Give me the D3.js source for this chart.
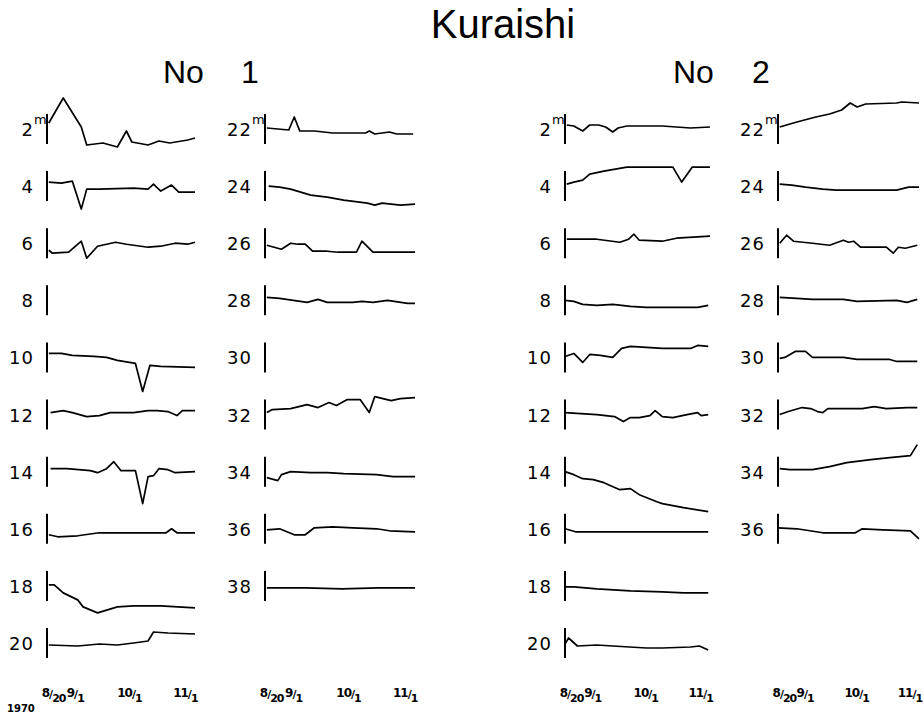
<!DOCTYPE html>
<html lang="en">
<head>
<meta charset="utf-8">
<title>Kuraishi</title>
<script src="https://cdn.jsdelivr.net/npm/d3@7"></script>
<style>
  body { margin: 0; background: #fff; }
  svg { display: block; }
</style>
</head>
<body>
<script>

// Days counted from Aug 1 1970 (day 32 = 9/1, day 62 = 10/1, day 93 = 11/1)
// Each point: [day, departure]; the little bar at the left of each trace is +/-14 units

// ---- Station No 1 ----
var no1_02 = [[19,6],[27,31],[37,2],[40,-16],[49,-14],[57,-18],[62,-2],[65,-13],[74,-16],[80,-12],[86,-14],[96,-11],[100,-9]];
var no1_04 = [[19,4],[26,3],[32,5],[37,-23],[40,-3],[47,-3],[66,-2],[74,-3],[77,2],[81,-5],[87,1],[91,-6],[100,-6]];
var no1_06 = [[19,-7],[21,-10],[30,-9],[37,2],[40,-15],[46,-3],[56,1],[62,-1],[74,-4],[81,-3],[89,0],[96,-1],[100,1]];
var no1_08 = [];
var no1_10 = [[19,4],[26,4],[32,2],[44,1],[51,0],[57,-3],[67,-6],[71,-34],[75,-8],[81,-9],[100,-10]];
var no1_12 = [[20,2],[27,4],[32,2],[40,-2],[47,-1],[53,2],[66,2],[74,4],[79,4],[85,3],[90,-1],[93,4],[100,4]];
var no1_14 = [[20,3],[29,3],[42,1],[46,-1],[51,3],[55,10],[59,1],[67,1],[71,-32],[74,-5],[77,-4],[80,3],[85,2],[89,-1],[100,0]];
var no1_16 = [[19,-6],[24,-8],[35,-7],[47,-4],[66,-4],[84,-4],[87,0],[90,-4],[100,-4]];
var no1_18 = [[19,1],[22,1],[27,-7],[35,-14],[38,-21],[46,-27],[57,-21],[66,-20],[81,-20],[100,-22]];
var no1_20 = [[19,-2],[35,-3],[47,-1],[57,-2],[66,0],[74,2],[77,11],[85,10],[100,9]];
var no1_22 = [[19,1],[31,-1],[34,12],[37,-2],[45,-2],[55,-4],[73,-4],[75,-2],[78,-5],[86,-3],[90,-5],[99,-5]];
var no1_24 = [[20,0],[26,-1],[32,-3],[43,-9],[52,-11],[61,-14],[74,-17],[78,-19],[82,-17],[92,-19],[100,-18]];
var no1_26 = [[19,-2],[27,-6],[32,0],[36,-1],[40,-1],[44,-8],[52,-8],[58,-9],[68,-9],[71,2],[77,-9],[87,-9],[100,-9]];
var no1_28 = [[19,3],[26,2],[41,-2],[47,1],[52,-2],[66,-2],[71,-1],[77,-2],[85,0],[96,-3],[100,-3]];
var no1_30 = [];
var no1_32 = [[19,2],[22,5],[32,6],[41,10],[47,7],[53,12],[57,9],[63,15],[70,15],[75,2],[78,18],[87,14],[92,16],[100,17]];
var no1_34 = [[19,-6],[25,-9],[27,-3],[32,0],[43,-1],[52,-1],[61,-2],[79,-3],[88,-5],[100,-5]];
var no1_36 = [[19,-1],[26,0],[30,-3],[34,-6],[40,-6],[45,1],[55,2],[66,1],[79,0],[86,-2],[100,-3]];
var no1_38 = [[19,-2],[40,-2],[60,-3],[80,-2],[100,-2]];

// ---- Station No 2 ----
var no2_02 = [[19,4],[23,3],[28,-2],[32,4],[37,4],[41,2],[45,-3],[48,1],[53,3],[73,3],[89,1],[100,2]];
var no2_04 = [[19,2],[23,4],[28,6],[32,12],[40,15],[53,19],[64,19],[79,19],[84,4],[90,19],[100,19]];
var no2_06 = [[19,4],[36,4],[49,1],[54,4],[57,9],[60,3],[73,2],[81,5],[100,7]];
var no2_08 = [[18,0],[23,-1],[28,-4],[36,-5],[45,-4],[55,-6],[64,-7],[73,-7],[93,-7],[99,-5]];
var no2_10 = [[18,1],[23,4],[28,-5],[32,3],[38,2],[45,0],[50,9],[55,11],[73,9],[89,9],[93,12],[99,11]];
var no2_12 = [[18,2],[36,0],[46,-2],[51,-7],[55,-3],[60,-3],[66,-1],[69,4],[73,-2],[79,-3],[87,0],[93,2],[95,-1],[99,0]];
var no2_14 = [[18,0],[23,-3],[28,-7],[34,-8],[40,-11],[49,-18],[55,-17],[60,-23],[70,-30],[73,-32],[85,-36],[99,-40]];
var no2_16 = [[18,0],[24,-3],[36,-3],[99,-3]];
var no2_18 = [[18,-1],[23,-1],[36,-3],[55,-5],[73,-6],[85,-7],[99,-7]];
var no2_20 = [[18,-1],[20,5],[25,-3],[36,-2],[45,-3],[64,-5],[73,-5],[89,-4],[94,-3],[99,-7]];
var no2_22 = [[19,2],[29,7],[40,12],[48,15],[55,19],[60,26],[64,22],[69,25],[87,26],[90,27],[100,26]];
var no2_24 = [[19,2],[26,1],[34,-1],[44,-3],[52,-4],[67,-4],[87,-4],[94,-1],[100,-1]];
var no2_26 = [[19,0],[23,8],[27,2],[38,0],[48,-2],[56,3],[59,1],[62,2],[66,-4],[75,-4],[81,-4],[85,-10],[88,-4],[92,-5],[99,-2]];
var no2_28 = [[19,3],[29,2],[38,1],[56,1],[64,-1],[87,0],[93,-2],[99,1]];
var no2_30 = [[19,-1],[22,0],[28,6],[34,6],[38,0],[56,0],[64,-2],[83,-2],[87,-4],[99,-4]];
var no2_32 = [[19,0],[24,3],[32,7],[37,6],[41,3],[44,2],[47,6],[67,6],[74,8],[81,6],[93,7],[99,7]];
var no2_34 = [[19,3],[25,2],[38,2],[48,5],[58,9],[72,12],[83,14],[95,16],[99,27]];
var no2_36 = [[18,1],[29,0],[44,-4],[63,-4],[67,0],[79,-1],[95,-2],[100,-10]];

var depthsLeft = [2, 4, 6, 8, 10, 12, 14, 16, 18, 20];
var depthsRight1 = [22, 24, 26, 28, 30, 32, 34, 36, 38];
var depthsRight2 = [22, 24, 26, 28, 30, 32, 34, 36];

var tickDays = [20, 32, 62, 93];
var tickNum = ["8", "9", "10", "11"];
var tickDen = ["20", "1", "1", "1"];

// ---- layout ----
var w = 924;
var h = 713;

var columns = [
	{ x0: 47,  width: 148, depths: depthsLeft,   series: [no1_02, no1_04, no1_06, no1_08, no1_10, no1_12, no1_14, no1_16, no1_18, no1_20] },
	{ x0: 265, width: 150, depths: depthsRight1, series: [no1_22, no1_24, no1_26, no1_28, no1_30, no1_32, no1_34, no1_36, no1_38] },
	{ x0: 565, width: 145, depths: depthsLeft,   series: [no2_02, no2_04, no2_06, no2_08, no2_10, no2_12, no2_14, no2_16, no2_18, no2_20] },
	{ x0: 778, width: 141, depths: depthsRight2, series: [no2_22, no2_24, no2_26, no2_28, no2_30, no2_32, no2_34, no2_36] }
];

var toDate = function(d) { return new Date(1970, 7, d); };

var rowY = d3.scaleLinear().domain([0, 9]).range([129, 643]);
var yOff = d3.scaleLinear().domain([-14, 14]).range([14, -14]);

var svg = d3.select("body")
			.append("svg")
			.attr("width", w)
			.attr("height", h);

svg.append("rect").attr("width", w).attr("height", h).attr("fill", "#fff");

//Titles
svg.append("text")
	.attr("x", 503).attr("y", 38)
	.attr("text-anchor", "middle")
	.attr("font-family", "Liberation Sans, sans-serif")
	.attr("font-size", "40px")
	.text("Kuraishi");

var heads = [
	{ x: 163, label: "No", anchor: "start" }, { x: 250, label: "1", anchor: "middle" },
	{ x: 673, label: "No", anchor: "start" }, { x: 752, label: "2", anchor: "start" }
];
svg.selectAll(".head")
	.data(heads)
	.enter()
	.append("text")
	.attr("class", "head")
	.attr("x", function(d) { return d.x; })
	.attr("y", 83)
	.attr("text-anchor", function(d) { return d.anchor; })
	.attr("font-family", "Liberation Sans, sans-serif")
	.attr("font-size", "32px")
	.text(function(d) { return d.label; });

columns.forEach(function(col) {

	var xScale = d3.scaleTime()
				.domain([toDate(18), toDate(100)])
				.range([col.x0, col.x0 + col.width]);

	var g = svg.append("g");

	col.depths.forEach(function(depth, i) {
		var cy = rowY(i);

		//small scale bar
		g.append("line")
			.attr("x1", col.x0).attr("x2", col.x0)
			.attr("y1", cy - 15).attr("y2", cy + 15)
			.attr("stroke", "#000")
			.attr("stroke-width", 2);

		//depth label
		g.append("text")
			.attr("x", col.x0 - 13)
			.attr("y", cy + 7)
			.attr("text-anchor", "end")
			.attr("font-family", "DejaVu Sans, sans-serif")
			.attr("font-size", "18px")
			.attr("letter-spacing", "1px")
			.text(depth);

		if (i === 0) {
			g.append("text")
				.attr("x", col.x0 - 13)
				.attr("y", cy - 5)
				.attr("font-family", "DejaVu Sans, sans-serif")
				.attr("font-size", "13px")
				.text("m");
		}

		var data = col.series[i];
		if (data.length) {
			var line = d3.line()
						.x(function(d) { return xScale(toDate(d[0])); })
						.y(function(d) { return cy + yOff(d[1]); });
			g.append("path")
				.attr("d", line(data))
				.attr("fill", "none")
				.attr("stroke", "#000")
				.attr("stroke-width", 1.7)
				.attr("stroke-linejoin", "round");
		}
	});

	//date labels, written as small fractions
	var lab = g.selectAll(".date")
				.data(tickDays)
				.enter()
				.append("text")
				.attr("class", "date")
				.attr("x", function(d) { return xScale(toDate(d)) + 3; })
				.attr("y", 697)
				.attr("text-anchor", "middle")
				.attr("font-family", "DejaVu Sans, sans-serif")
				.attr("font-weight", "bold")
				.attr("font-size", "12px")
				.attr("letter-spacing", "-1px");
	lab.append("tspan").text(function(d, j) { return tickNum[j]; });
	lab.append("tspan").attr("font-size", "11px").attr("dy", 1).text("/");
	lab.append("tspan").attr("font-size", "11px").attr("dy", 4).text(function(d, j) { return tickDen[j]; });
});

svg.append("text")
	.attr("x", 7).attr("y", 712)
	.attr("font-family", "DejaVu Sans, sans-serif")
	.attr("font-weight", "bold")
	.attr("font-size", "10px")
	.text("1970");

</script>
</body>
</html>
